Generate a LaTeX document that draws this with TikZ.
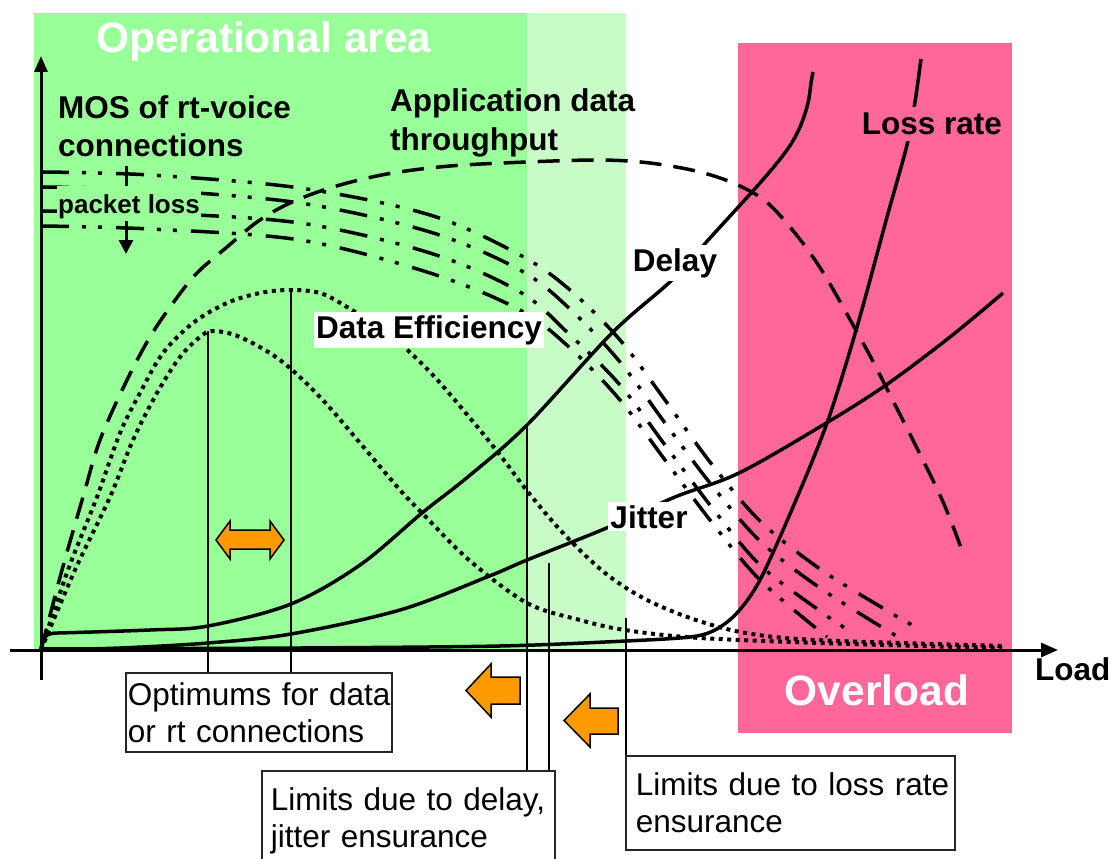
\documentclass[tikz,border=0pt]{standalone}
\usepackage{fontspec}
\setmainfont{Liberation Sans}
\usetikzlibrary{arrows.meta}
\definecolor{opgreen}{RGB}{153,255,153}
\definecolor{opgreenlight}{RGB}{200,253,200}
\definecolor{ovpink}{RGB}{255,102,153}
\definecolor{arroworange}{RGB}{255,153,0}
\begin{document}
\begin{tikzpicture}[x=1pt,y=-1pt,
  title/.style={font=\fontsize{42.5}{48}\selectfont\bfseries, text=white, inner sep=0pt},
  lbl/.style={font=\fontsize{31.5}{38}\selectfont\bfseries, inner sep=0pt},
  tag/.style={lbl, inner xsep=2pt, inner ysep=3pt},
  infobox/.style={draw=black!85, line width=1.8pt, fill=white, align=left,
    font=\fontsize{31.5}{37}\selectfont},
  curve/.style={line width=3.5pt, line join=round},
  dashedcurve/.style={curve, dash pattern=on 22pt off 12pt},
  dottedcurve/.style={line width=4pt, dash pattern=on 4pt off 4.5pt},
  mosline/.style={line width=3.5pt, dash pattern=on 28pt off 13pt on 4pt off 12pt on 4pt off 14pt},
  axisline/.style={line width=3pt},
  guide/.style={line width=1.8pt},
  bigarrow/.style={fill=arroworange, draw=black, line width=1.5pt, line join=miter}
]
\useasboundingbox (0,0) rectangle (1112,859);

% regions
\fill[opgreen] (34,13) rectangle (527,650);
\fill[opgreenlight] (527,13) rectangle (626,650);
\fill[ovpink] (738,43) rectangle (1012,733);

\node[title, anchor=base west] (optitle) at (96,53) {Operational area};
\node[title, anchor=base] (ovtitle) at (877,705) {Overload};

% MOS curves for increasing packet loss
\draw[mosline] plot[smooth, tension=0.55] coordinates {(41,172) (150,175) (300,188) (430,215) (520,255) (570,290) (620,340) (665,400) (710,462) (760,521) (820,569) (886,610) (912,625)};
\draw[mosline] plot[smooth, tension=0.55] coordinates {(41,187) (150,190) (300,203) (430,232) (520,270) (570,309) (620,362) (665,423) (710,483) (760,541) (820,588) (898,637)};
\draw[mosline] plot[smooth, tension=0.55] coordinates {(41,211) (150,213) (300,223) (430,253) (520,292) (570,335) (620,385) (665,445) (710,505) (760,565) (820,611) (845,628)};
\draw[mosline] plot[smooth, tension=0.55] coordinates {(41,226) (150,229) (300,240) (430,273) (520,310) (570,348) (620,400) (665,460) (710,520) (760,580) (827,637)};

\coordinate (pltop) at (126,166);
\coordinate (plbot) at (126,254);
\draw[line width=3pt, -{Triangle[length=14pt,width=14pt]}] (pltop) -- (plbot);
\node[font=\fontsize{26}{30}\selectfont\bfseries, fill=opgreen, anchor=base west,
  inner xsep=1pt, inner ysep=0pt, text height=27pt, text depth=8pt] (ploss) at (57,213) {packet loss};

% application data throughput
\draw[dashedcurve] plot[smooth, tension=0.55] coordinates {(41,650) (62,570) (83,497) (100,440) (127,380) (150,337) (173,303) (197,273) (227,247) (257,222) (290,203) (333,187) (387,174) (450,166) (527,162) (600,160) (650,163) (700,172) (740,186) (773,208) (817,263) (863,343) (886,387) (939,493) (961,548)};

% data efficiency
\draw[dottedcurve] plot[smooth, tension=0.55] coordinates {(41,650) (75,570) (110,497) (133,440) (157,393) (180,357) (200,337) (213,331) (240,337) (280,360) (320,397) (360,443) (400,490) (424,515) (469,560) (527,603) (580,620) (625,630) (700,638) (850,644) (1002,648)};
\draw[dottedcurve] plot[smooth, tension=0.55] coordinates {(41,650) (68,570) (97,497) (120,433) (140,393) (163,353) (193,323) (227,303) (260,293) (290,290) (320,293) (347,307) (390,335) (430,372) (470,418) (500,455) (528,492) (563,533) (605,573) (647,600) (696,620) (746,633) (816,640) (1002,646)};

% delay
\draw[curve] (41,650) .. controls (42,637) and (46,633) .. (58,633)
  -- plot[smooth, tension=0.55] coordinates {(58,633) (150,630) (208,626) (291,604) (360,565) (422,513) (469,476) (527,425) (612,333) (672,280) (710,238) (760,183) (787,150) (800,127) (808,103) (811,83) (813,72)};

% jitter
\draw[curve] plot[smooth, tension=0.55] coordinates {(41,650) (120,648) (208,643) (291,634) (400,610) (487,577) (527,560) (609,527) (675,497) (739,473) (823,425) (886,385) (950,337) (1003,293)};

% loss rate
\draw[curve] plot[smooth, tension=0.5] coordinates {(41,649) (300,648) (500,646) (626,641) (690,637) (715,630) (737,613) (760,580) (793,507) (827,423) (857,327) (887,217) (907,145) (915,102) (921,59)};

% curve labels
\node[lbl, anchor=base west] (mos1) at (58,118) {MOS of rt-voice};
\node[lbl, anchor=base west] (mos2) at (58,157) {connections};
\node[lbl, anchor=base west] (app1) at (390,112) {Application data};
\node[lbl, anchor=base west] (app2) at (390,150) {throughput};
\node[tag, anchor=base, fill=white] (deff) at (429,338) {Data Efficiency};
\node[tag, anchor=base, fill=white] (delay) at (675,271) {Delay};
\node[tag, anchor=base, fill=white] (jitter) at (649,528) {Jitter};
\node[tag, anchor=base, fill=ovpink, inner ysep=6pt] (loss) at (932,135) {Loss rate};
\node[lbl, anchor=base west] (load) at (1035,680) {Load};

% axes
\coordinate (xfrom) at (10,650);
\coordinate (xto) at (1058,650);
\coordinate (yfrom) at (41,680);
\coordinate (yto) at (41,56);
\draw[axisline, -{Triangle[length=17pt,width=14pt]}] (xfrom) -- (xto);
\draw[axisline, -{Triangle[length=16pt,width=13pt]}] (yfrom) -- (yto);

% annotation boxes
\node[infobox, anchor=north west, text width=262pt, inner xsep=2pt, inner ysep=0pt, minimum height=79pt] (optbox) at (125,672) {\mbox{Optimums for data}\\\mbox{or rt connections}};
\node[infobox, anchor=north west, text width=275pt, inner xsep=9pt, inner ysep=17pt] (delbox) at (261,770) {\mbox{Limits due to delay,}\\\mbox{jitter ensurance}};
\node[infobox, anchor=north west, text width=309pt, inner xsep=10pt, inner ysep=17pt] (lossbox) at (625,755) {\mbox{Limits due to loss rate}\\\mbox{ensurance}};

% guide lines from the curves to the boxes
\coordinate (pkA) at (208,331);
\coordinate (pkB) at (291,290);
\coordinate (dlA) at (527,425);
\coordinate (jtA) at (549,563);
\coordinate (lsA) at (626,618);
\draw[guide] (pkA) -- (pkA |- optbox.north);
\draw[guide] (pkB) -- (pkB |- optbox.north);
\draw[guide] (dlA) -- (dlA |- delbox.north);
\draw[guide] (jtA) -- (jtA |- delbox.north);
\draw[guide] (lsA) -- (lsA |- lossbox.north);

% block arrows
\filldraw[bigarrow] (216,540) -- (230,521) -- (230,530) -- (270,530) -- (270,521) -- (284,540)
  -- (270,559) -- (270,549) -- (230,549) -- (230,559) -- cycle;
\filldraw[bigarrow] (466,690.5) -- (491,664) -- (491,677) -- (520,677) -- (520,704) -- (491,704) -- (491,717) -- cycle;
\filldraw[bigarrow] (564,720.5) -- (590,694) -- (590,708) -- (618,708) -- (618,734) -- (590,734) -- (590,747) -- cycle;
\end{tikzpicture}
\end{document}
